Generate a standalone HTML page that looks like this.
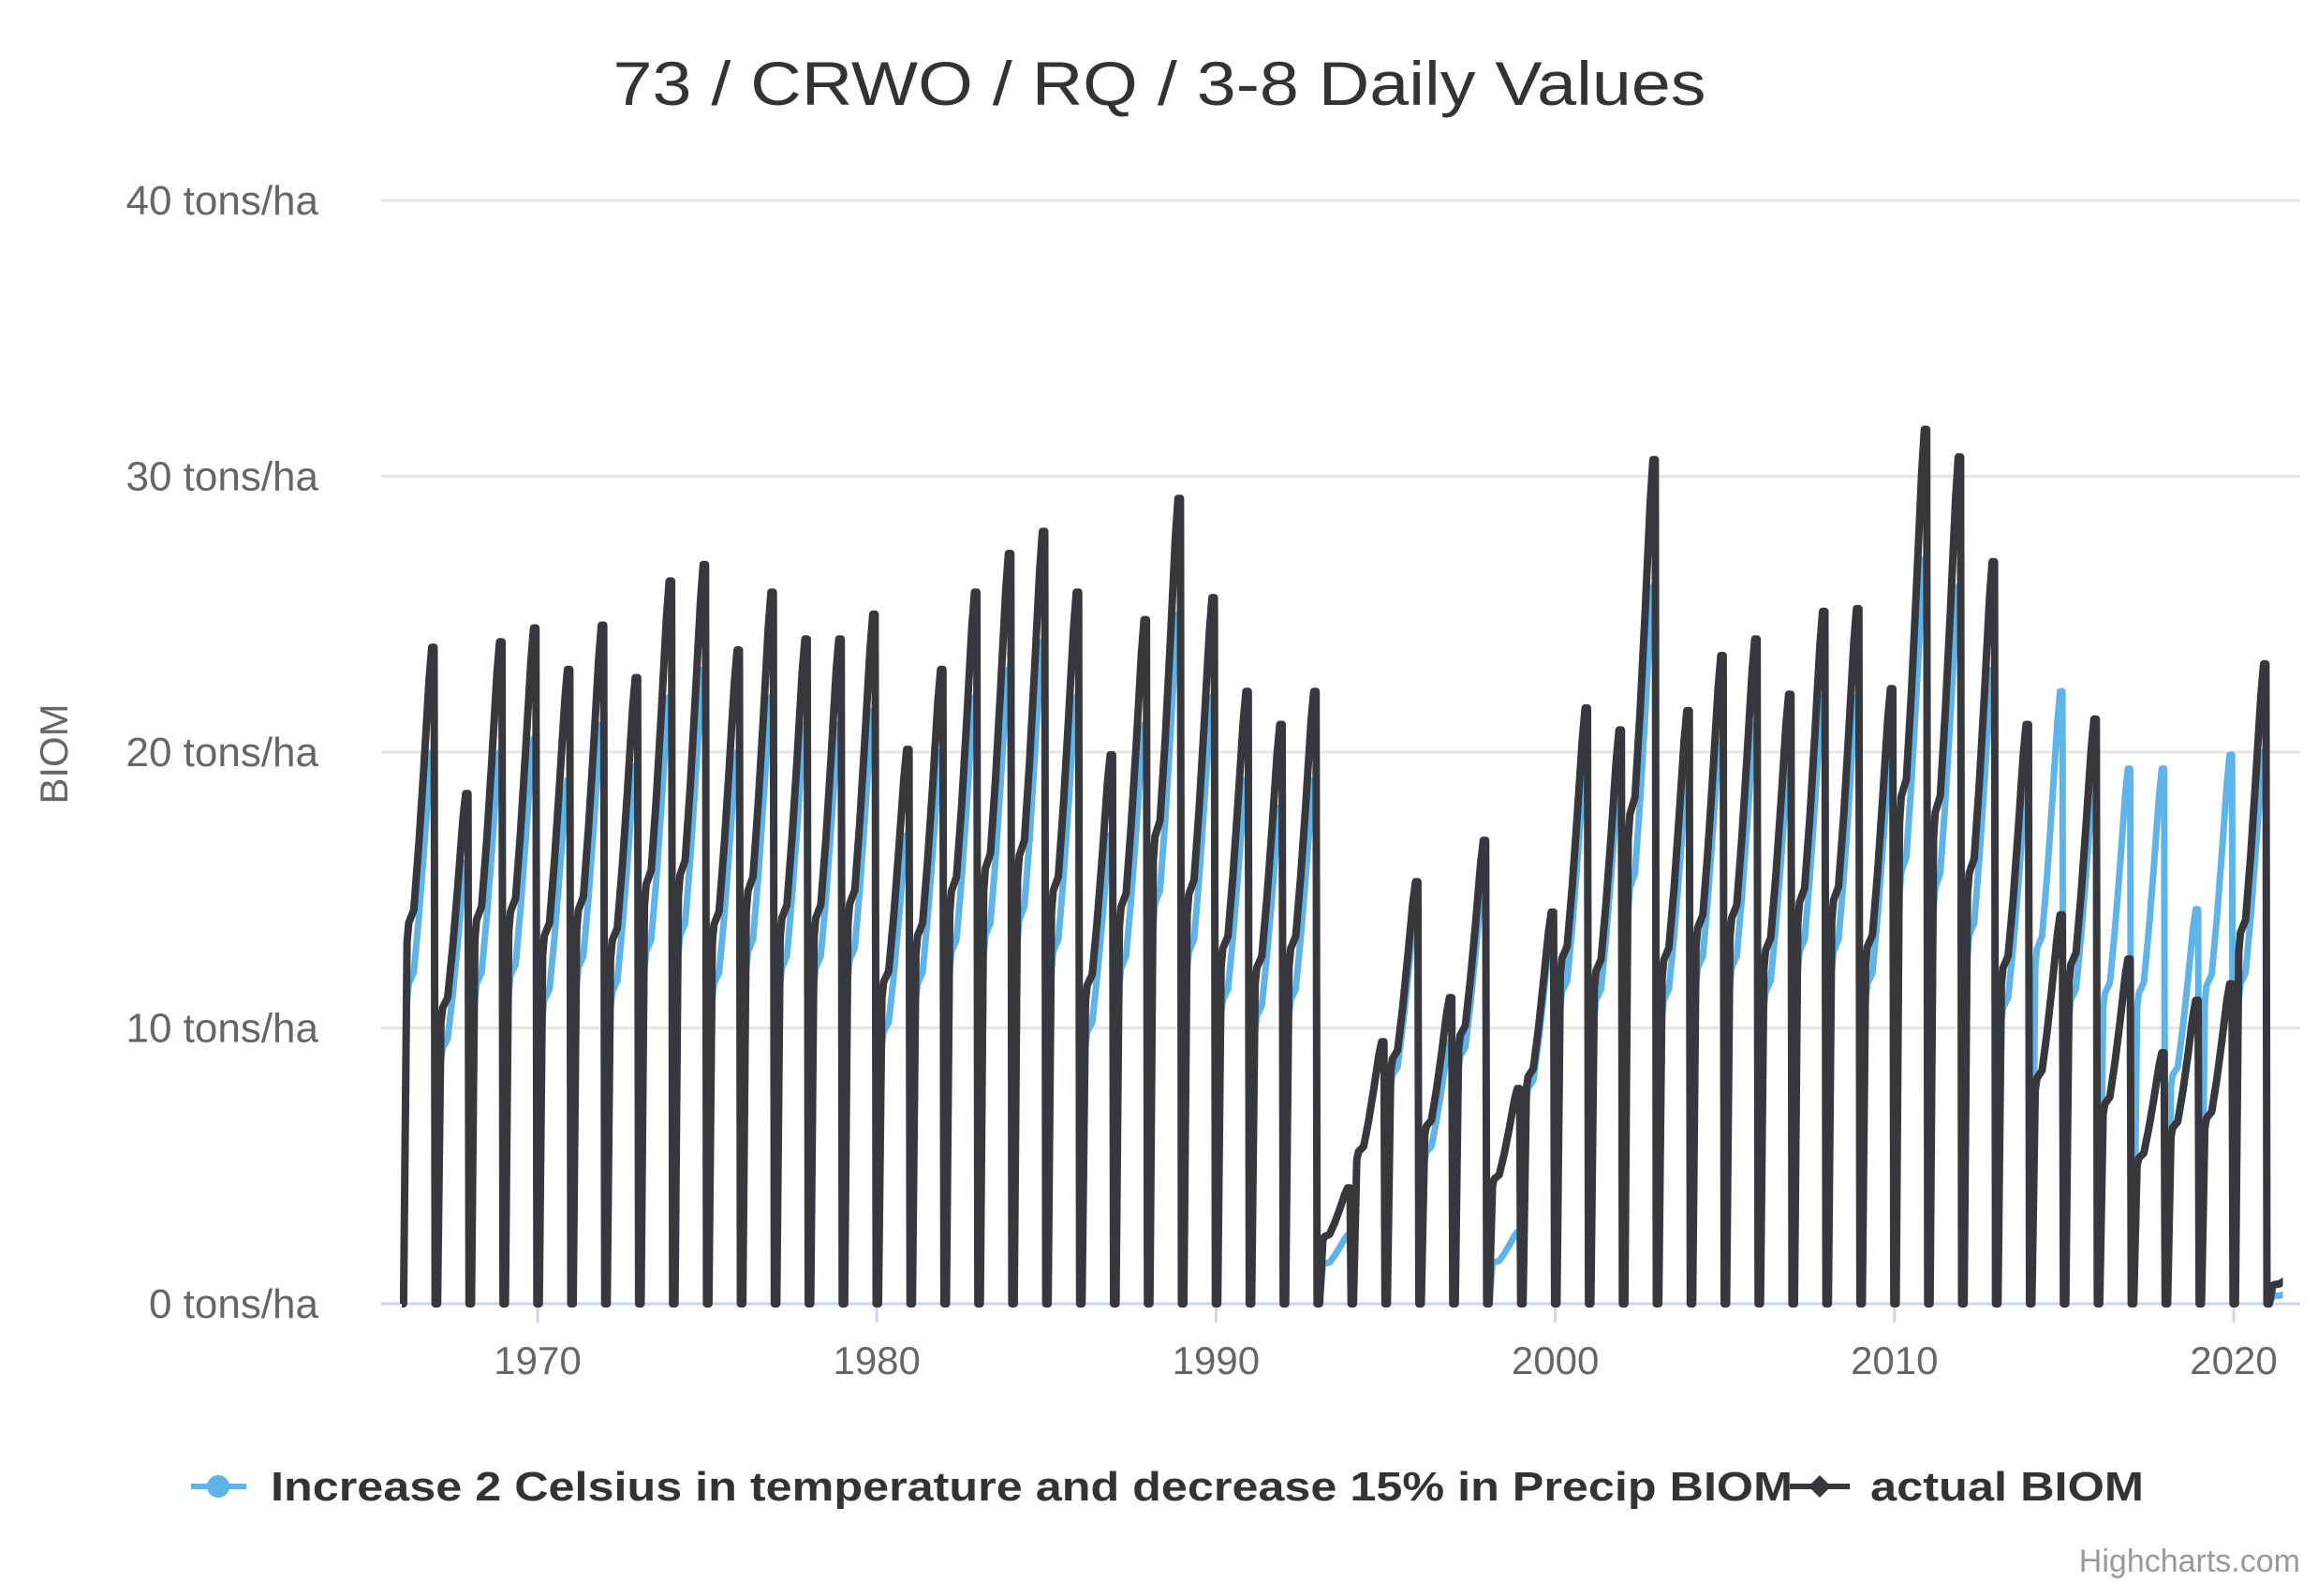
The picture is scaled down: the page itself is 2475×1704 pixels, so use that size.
<!DOCTYPE html>
<html><head><meta charset="utf-8">
<style>
html,body{margin:0;padding:0;background:#fff;}
svg{display:block;font-family:"Liberation Sans",Arial,sans-serif;}
</style></head>
<body>
<svg id="chart" width="2475" height="1704" viewBox="0 0 2475 1704" xmlns="http://www.w3.org/2000/svg">
<defs><clipPath id="plotclip"><rect id="cliprect" x="400" y="150" width="2040" height="1260"/></clipPath></defs>
<rect x="0" y="0" width="2475" height="1704" fill="#fff"/>
<text x="1238" y="112" text-anchor="middle" font-size="66" fill="#333" textLength="1167" lengthAdjust="spacingAndGlyphs">73 / CRWO / RQ / 3-8 Daily Values</text>
<g id="grid"></g>
<g id="yticks"></g>
<g id="xticks"></g>
<text x="72" y="805" text-anchor="middle" font-size="42" fill="#666" transform="rotate(-90 72 805)">BIOM</text>
<g id="series" clip-path="url(#plotclip)"></g>
<g>
  <g>
    <line x1="204" y1="1587" x2="263" y2="1587" stroke="#5eb3e8" stroke-width="6"/>
    <circle cx="233" cy="1587" r="12" fill="#5eb3e8"/>
    <text x="289" y="1602" font-size="44" font-weight="bold" fill="#333" textLength="1625" lengthAdjust="spacingAndGlyphs">Increase 2 Celsius in temperature and decrease 15% in Precip BIOM</text>
  </g>
  <g>
    <line x1="1911" y1="1587" x2="1975" y2="1587" stroke="#36383d" stroke-width="6"/>
    <path d="M1943 1575 L1955 1587 L1943 1599 L1931 1587 Z" fill="#36383d"/>
    <text x="1997" y="1602" font-size="44" font-weight="bold" fill="#333" textLength="292" lengthAdjust="spacingAndGlyphs">actual BIOM</text>
  </g>
</g>
<text x="2456" y="1678" text-anchor="end" font-size="34" fill="#999">Highcharts.com</text>
</svg>
<script>
const years = [1966,1967,1968,1969,1970,1971,1972,1973,1974,1975,1976,1977,1978,1979,1980,1981,1982,1983,1984,1985,1986,1987,1988,1989,1990,1991,1992,1993,1994,1995,1996,1997,1998,1999,2000,2001,2002,2003,2004,2005,2006,2007,2008,2009,2010,2011,2012,2013,2014,2015,2016,2017,2018,2019,2020,2021];
const actualPeaks = [23.8,18.5,24,24.5,23,24.6,22.7,26.2,26.8,23.7,25.8,24.1,24.1,25,20.1,23,25.8,27.2,28,25.8,19.9,24.8,29.2,25.6,22.2,21,22.2,4.2,9.5,15.3,11.1,16.8,7.8,14.2,21.6,20.8,30.6,21.5,23.5,24.1,22.1,25.1,25.2,22.3,31.7,30.7,26.9,21,14.1,21.2,12.5,9.1,11,11.6,23.2,1.2];
const climatePeaks = [20,16,20,20.5,19,21,19.5,22,23,20,22,21,21,21.5,17,20,22,23,24,22,17,21,25,22,19,18,19,2.5,9.5,14.3,9.5,15.5,2.6,13.5,19.5,19,26,19,21,21,19.5,22,22,20,27,26,23,18.5,22.2,19,19.4,19.4,14.3,19.9,20,0.5];
const yTicks = [0,10,20,30,40];
const xTicks = [1970,1980,1990,2000,2010,2020];

const X0=407, X1=2456, Y0=1392, Y40=214;
const xs = v => 574 + (v - 1970) * 36.22;
const ys = v => Y0 - v / 40 * (Y0 - Y40);
const NS='http://www.w3.org/2000/svg';
const mk=(t,a)=>{const e=document.createElementNS(NS,t);for(const k in a)e.setAttribute(k,a[k]);return e;};
document.getElementById('cliprect').setAttribute('width', xs(2021.45)-400);

const grid=document.getElementById('grid'), yt=document.getElementById('yticks'), xt=document.getElementById('xticks');
yTicks.forEach(v=>{
  const l=mk('line',{x1:X0,x2:X1,y1:ys(v),y2:ys(v),stroke:v===0?'#ccd6eb':'#e6e6e6','stroke-width':3});
  
  
  grid.appendChild(l);
  const t=mk('text',{x:340,y:ys(v)+15,'text-anchor':'end','font-size':44,fill:'#666'});
  t.textContent=v+' tons/ha';
  
  
  yt.appendChild(t);
});
xTicks.forEach(v=>{
  const l=mk('line',{x1:xs(v),x2:xs(v),y1:Y0,y2:Y0+20,stroke:'#ccd6eb','stroke-width':3});
  
  
  xt.appendChild(l);
  const t=mk('text',{x:xs(v),y:1467,'text-anchor':'middle','font-size':42,fill:'#666'});
  t.textContent=v;
  
  
  xt.appendChild(t);
});

// seasonal profile: [fraction of year, fraction of peak]
const profT=[0.05,0.15,0.2,0.35,0.5,0.65,0.8,0.88,0.95,0.98];
const profV=[0,0.55,0.58,0.6,0.7,0.82,0.95,1,1,0];
function buildPath(peaks){
  let d='M'+xs(years[0]).toFixed(1)+' '+ys(0).toFixed(1);
  years.forEach((y,i)=>{
    profT.forEach((f,j)=>{ d+=' L'+xs(y+f).toFixed(1)+' '+ys(peaks[i]*profV[j]).toFixed(1); });
  });
  return d;
}
const ser=document.getElementById('series');
const pc=mk('path',{d:buildPath(climatePeaks),fill:'none',stroke:'#5eb3e8','stroke-width':7,'stroke-linejoin':'round'});


ser.appendChild(pc);
const pa=mk('path',{d:buildPath(actualPeaks),fill:'none',stroke:'#36383d','stroke-width':8,'stroke-linejoin':'round'});


ser.appendChild(pa);
</script>
</body></html>
